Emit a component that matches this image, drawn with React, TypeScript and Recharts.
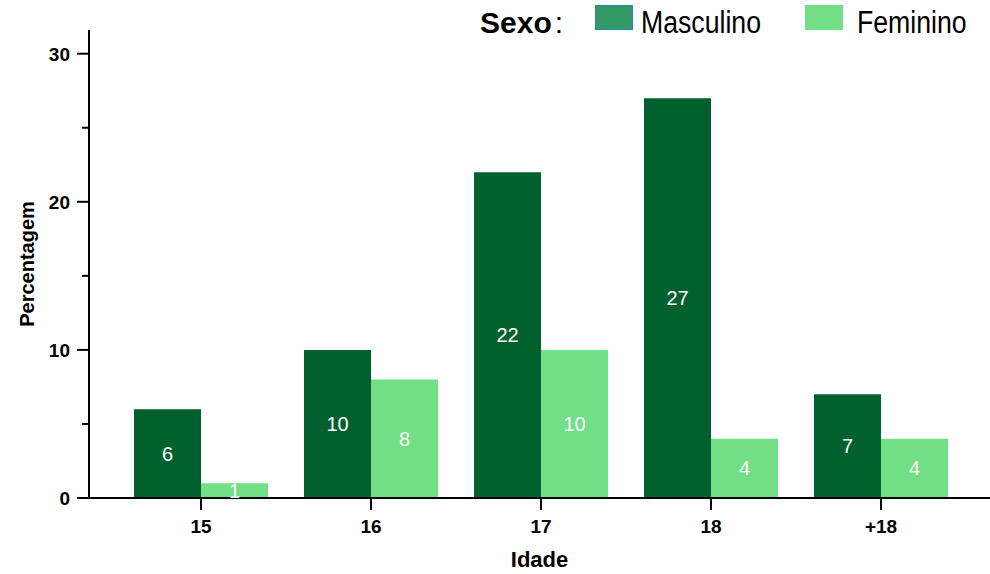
import React from "react";
import { BarChart, Bar, XAxis, YAxis, LabelList, Label } from "recharts";

const categories = ["15", "16", "17", "18", "+18"];
const masculino = [6, 10, 22, 27, 7];
const feminino = [1, 8, 10, 4, 4];
const yTicks = [0, 5, 10, 15, 20, 25, 30];
const legendTitle = "Sexo";
const seriesNames = ["Masculino", "Feminino"];

const data = categories.map((c, i) => ({ idade: c, Masculino: masculino[i], Feminino: feminino[i] }));

const DARK = "#00612E";
const LIGHT = "#72DE86";
const FONT = "'Liberation Sans', Arial, sans-serif";

const YTick = (props: any) => {
  const { x, y, payload } = props;
  const major = payload.value % 10 === 0;
  return (
    <g>
      <line x1={x - (major ? 12 : 7)} x2={x} y1={y} y2={y} stroke="#000" strokeWidth={2} />
      {major && (
        <text x={x - 19} y={y} dy={7} textAnchor="end" fontFamily={FONT} fontWeight="bold" fontSize={19} fill="#000">
          {payload.value}
        </text>
      )}
    </g>
  );
};

const narrowText = (t: string, w: number, ml: number) => (
  <span style={{ display: "inline-block", width: w, marginLeft: ml, whiteSpace: "nowrap" }}>
    <span style={{ display: "inline-block", fontFamily: FONT, fontSize: 31, color: "#000", transform: "scaleX(0.86)", transformOrigin: "left center" }}>{t}</span>
  </span>
);

export default function App() {
  return (
    <div style={{ position: "absolute", left: 0, top: 0, width: 990, height: 574, background: "#fff" }}>
      <BarChart
        width={990}
        height={574}
        data={data}
        margin={{ top: 30, right: 0, bottom: 0, left: 29 }}
        barCategoryGap={18}
        barGap={0}
      >
        <XAxis
          dataKey="idade"
          padding={{ left: 27, right: 24 }}
          stroke="#000"
          axisLine={{ stroke: "#000", strokeWidth: 2 }}
          tickLine={{ stroke: "#000", strokeWidth: 2 }}
          tickSize={12}
          tickMargin={10}
          tick={{ fontFamily: FONT, fontWeight: "bold", fontSize: 19, fill: "#000" }}
          height={76}
        >
          <Label value="Idade" position="insideBottom" offset={0} dy={-7} style={{ fontFamily: FONT, fontWeight: "bold", fontSize: 22, fill: "#000" }} />
        </XAxis>
        <YAxis
          width={60}
          domain={[0, 31.6]}
          ticks={yTicks}
          interval={0}
          allowDataOverflow
          axisLine={{ stroke: "#000", strokeWidth: 2 }}
          tickLine={false}
          tickSize={0}
          tickMargin={0}
          tick={<YTick />}
        >
          <Label value="Percentagem" angle={-90} position="insideLeft" offset={0} dx={-2} dy={0} style={{ textAnchor: "middle", fontFamily: FONT, fontWeight: "bold", fontSize: 20, fill: "#000" }} />
        </YAxis>
        <Bar dataKey="Masculino" fill={DARK} isAnimationActive={false}>
          <LabelList dataKey="Masculino" position="center" fill="#fff" style={{ fontFamily: FONT, fontSize: 20 }} />
        </Bar>
        <Bar dataKey="Feminino" fill={LIGHT} isAnimationActive={false}>
          <LabelList dataKey="Feminino" position="center" fill="#fff" style={{ fontFamily: FONT, fontSize: 20 }} />
        </Bar>
      </BarChart>
      <div style={{ position: "absolute", left: 480, top: 3, display: "flex", alignItems: "center", height: 40 }}>
        <span style={{ fontFamily: FONT, fontWeight: "bold", fontSize: 30, color: "#000" }}>{legendTitle}</span>
        <span style={{ fontFamily: FONT, fontSize: 30, color: "#000", marginLeft: 3 }}>:</span>
        <span style={{ display: "inline-block", width: 38, height: 25, background: "#339966", border: "1.5px solid #2E86AB", marginLeft: 32, boxSizing: "border-box", alignSelf: "flex-start", marginTop: 2 }} />
        {narrowText(seriesNames[0], 120, 8)}
        <span style={{ display: "inline-block", width: 38, height: 25, background: LIGHT, alignSelf: "flex-start", marginTop: 2, marginLeft: 44 }} />
        {narrowText(seriesNames[1], 110, 14)}
      </div>
    </div>
  );
}
